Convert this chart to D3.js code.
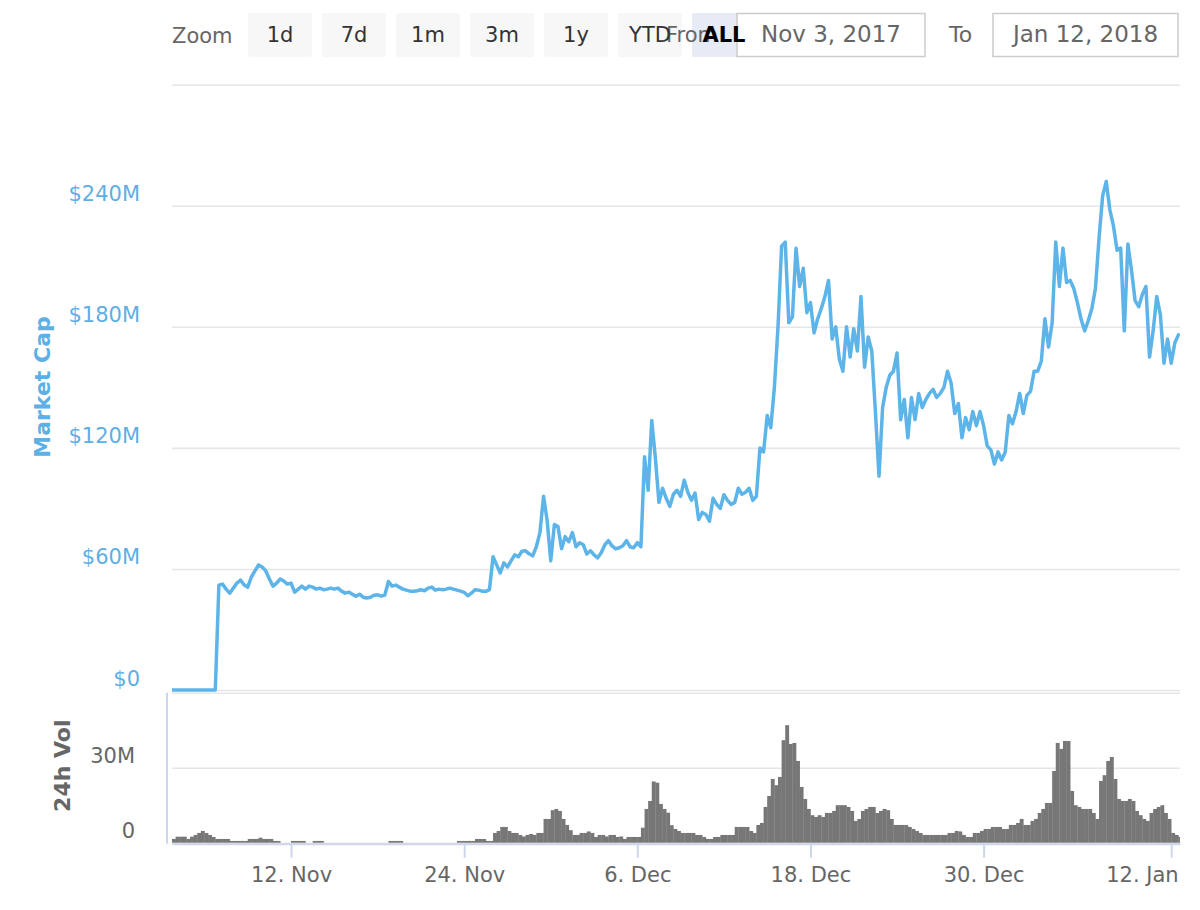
<!DOCTYPE html>
<html>
<head>
<meta charset="utf-8">
<script src="https://cdn.jsdelivr.net/npm/d3@7"></script>
<style>
  body { margin: 0; background: #fff; }
  text { font-family: "DejaVu Sans", sans-serif; }
</style>
</head>
<body>
<div id="chart"></div>
<script>
// data, one value every 6 hours starting Nov 3 18:00
var capStart = "2017-11-03T18:00";
var capEnd = "2018-01-12T14:40";
var stepHours = 6;

// market cap in $M
var marketCap = [
  0, 0, 0, 0, 0, 0, 0, 0, 0, 0,
  0, 0, 0, 52, 52.5, 50, 48, 50.5, 53, 54.5,
  52, 51, 56, 59, 62, 61, 59, 55, 51.5, 53,
  55, 54, 52.5, 53, 48.5, 50, 51.5, 50, 51.5, 51,
  50, 50.5, 49.7, 50, 50.5, 50, 50.5, 49, 48, 48.5,
  47.5, 46.5, 47.5, 46, 45.6, 46, 47, 47.2, 46.5, 47,
  53.8, 51.5, 52, 51, 50, 49.5, 49, 48.9, 49.2, 49.7,
  49.2, 50.5, 51, 49.5, 50, 49.7, 50, 50.5, 50, 49.5,
  49, 48.4, 46.7, 48, 49.7, 49.5, 49, 48.9, 49.7, 66,
  62, 58, 63, 61, 64, 67, 66, 68.8, 69, 67.5,
  66.5, 71, 78, 96, 84, 64, 82, 81, 70, 76,
  73.5, 78, 71, 73, 72, 67.4, 69, 67, 65.5, 68,
  72, 74, 71.4, 70, 70.5, 71.5, 74, 71, 70.5, 73,
  71, 115.6, 99, 133.6, 115, 93, 100, 95, 91, 97,
  99, 96, 104, 98, 94, 97.6, 84.5, 88, 87, 83.7,
  95, 92, 90, 96.8, 94, 92, 93, 100, 97, 98,
  100, 94, 96, 120, 118, 136, 130, 150, 180, 220,
  222, 182, 185, 219, 200, 209, 187, 192, 177, 184,
  189, 195, 203, 174, 180, 164, 158, 180, 165, 179,
  168, 195, 160, 175, 168, 138, 106, 140, 150, 156,
  158, 167, 134, 144, 125, 145, 134, 147, 140, 144,
  147, 149, 145, 147, 150, 158, 152, 137, 142, 125,
  135, 129, 138, 131, 138, 131, 121, 119, 112, 118,
  114, 118, 136, 132, 138, 147, 137, 146, 148, 158,
  158, 163, 184, 170, 182, 222, 200, 219, 202, 203,
  199, 192, 184, 178, 183, 189, 199, 224, 245, 252,
  238, 230, 218, 219, 178, 221, 208, 193, 190, 196,
  200, 165, 178, 195, 186, 162, 174, 162, 172, 176
];

// 24h volume in $M
var volume24h = [
  1.5, 2.4, 2.4, 2.4, 1.5, 2.4, 3.1, 3.9, 4.7, 3.9,
  3.1, 2.3, 1.5, 1.5, 1.5, 1.5, 0.7, 0.7, 0.7, 0.7,
  0.7, 1.5, 1.5, 1.5, 2.0, 1.5, 1.5, 1.5, 0.7, 0.7,
  0, 0, 0, 0.7, 0.7, 0.7, 0.7, 0, 0, 0.7,
  0.7, 0.7, 0, 0, 0, 0, 0, 0, 0, 0,
  0, 0, 0, 0, 0, 0, 0, 0, 0, 0,
  0.7, 0.7, 0.7, 0.7, 0, 0, 0, 0, 0, 0,
  0, 0, 0, 0, 0, 0, 0, 0, 0, 0.7,
  0.7, 0.7, 0.7, 0.7, 1.5, 1.5, 1.5, 0.7, 0.7, 3.9,
  4.7, 6.3, 6.3, 4.7, 3.9, 3.9, 3.1, 2.5, 3.1, 3.5,
  3.1, 3.9, 3.9, 9.5, 9.5, 13, 13.5, 12.7, 9.5, 7.1,
  5, 3.1, 3.1, 3.9, 3.9, 4.5, 3.9, 2.3, 3.1, 3.1,
  2.5, 3.1, 3.1, 2.3, 2.5, 1.5, 2.3, 2.3, 2.3, 2.3,
  6, 13.5, 16.7, 24.5, 24, 15.5, 13.5, 12, 7, 5.5,
  4.7, 3.9, 3.9, 3.9, 3.9, 3.1, 3.1, 2.3, 1.5, 1.5,
  2.3, 2.3, 3.1, 3.1, 3.1, 3.1, 6.3, 6.3, 6.3, 6.3,
  4.7, 3.9, 7.1, 7.9, 14.3, 18.7, 25.5, 23, 26.3, 41,
  47, 39.5, 39.9, 32.7, 22.3, 17.5, 13.5, 11, 10.3, 11,
  10.3, 11.9, 11.9, 12.7, 15, 15, 15, 14.3, 12.7, 8.7,
  9.5, 12.7, 13.5, 14.3, 14.3, 11.9, 12.7, 13.5, 13, 9.5,
  7.1, 7.1, 7.1, 7.1, 6.3, 5.5, 4.7, 3.9, 3.1, 3.1,
  3.1, 3.1, 3.1, 3.1, 3.1, 3.9, 3.9, 4.7, 4.5, 3.1,
  2.3, 2.3, 3.9, 3.9, 4.7, 5.5, 5.5, 6.3, 6.3, 6.3,
  5.5, 5.5, 7.1, 7.1, 7.9, 9.5, 7.1, 7.1, 8.7, 9.5,
  11.9, 13.5, 15.9, 15.9, 28.7, 39.9, 37.5, 40.7, 40.7, 20.7,
  15, 14.3, 13.5, 13.5, 13.5, 11.9, 9.5, 24.7, 27, 32.7,
  34.3, 25.5, 17.5, 16.7, 16.7, 17.5, 16.7, 12.7, 11, 9.5,
  8.7, 11.9, 13.5, 14.3, 15, 11.9, 9.5, 3.9, 3.1, 2.3
];

// axis ticks
var capTicks = [0, 60, 120, 180, 240, 300];
var capTickLabels = ["$0", "$60M", "$120M", "$180M", "$240M", ""];
var volTicks = [0, 30, 60];
var volTickLabels = ["0", "30M", ""];
var xTickDates = ["2017-11-12", "2017-11-24", "2017-12-06", "2017-12-18", "2017-12-30", "2018-01-12"];

// range selector
var zoomButtons = ["1d", "7d", "1m", "3m", "1y", "YTD", "ALL"];
var selectedButton = "ALL";
var rangeFrom = "Nov 3, 2017";
var rangeTo = "Jan 12, 2018";

var svgWidth = 1200;
var svgHeight = 910;
var plotLeft = 172;
var plotRight = 1180;
var capTop = 84.7, capBottom = 690;
var volTop = 692.7, volBottom = 842.7;

var blue = "#5cb4e9";
var labelBlue = "#5eafe3";
var gray = "#666666";

var svg = d3.select("#chart")
  .append("svg")
  .attr("width", svgWidth)
  .attr("height", svgHeight);

var parseTime = d3.utcParse("%Y-%m-%dT%H:%M");
var parseDay = d3.utcParse("%Y-%m-%d");
var startTime = parseTime(capStart);

var capData = marketCap.map(function(v, i) {
  return { t: d3.utcHour.offset(startTime, i * stepHours), v: v };
});
var volData = volume24h.map(function(v, i) {
  return { t: d3.utcHour.offset(startTime, i * stepHours), v: v };
});

// scales
var xScale = d3.scaleUtc()
  .domain([startTime, parseTime(capEnd)])
  .range([plotLeft, plotRight]);

var yCap = d3.scaleLinear().domain([0, 300]).range([capBottom, capTop]);
var yVol = d3.scaleLinear().domain([0, 60]).range([volBottom, volTop]);

// clip
svg.append("clipPath").attr("id", "plotClip")
  .append("rect")
  .attr("x", plotLeft).attr("y", 0)
  .attr("width", plotRight - plotLeft).attr("height", svgHeight);

// market cap grid + labels
var capAxis = svg.append("g")
  .attr("transform", `translate(${plotLeft},0)`)
  .call(d3.axisLeft(yCap)
    .tickValues(capTicks)
    .tickSize(-(plotRight - plotLeft))
    .tickPadding(32)
    .tickFormat(function(d, i) { return capTickLabels[i]; }));
capAxis.select(".domain").remove();
capAxis.selectAll(".tick line").attr("stroke", "#e6e6e6").attr("stroke-width", 1.6);
capAxis.selectAll(".tick text")
  .attr("y", -5).attr("dy", 0)
  .attr("fill", labelBlue)
  .style("font-size", "21px");

// volume grid + labels
var volAxis = svg.append("g")
  .attr("transform", `translate(${plotLeft},0)`)
  .call(d3.axisLeft(yVol)
    .tickValues(volTicks)
    .tickSize(-(plotRight - plotLeft))
    .tickPadding(37)
    .tickFormat(function(d, i) { return volTickLabels[i]; }));
volAxis.select(".domain").remove();
volAxis.selectAll(".tick line").attr("stroke", "#e6e6e6").attr("stroke-width", 1.6);
volAxis.selectAll(".tick text")
  .attr("y", -5).attr("dy", 0)
  .attr("fill", gray)
  .style("font-size", "21px");

// volume bars
svg.append("g")
  .attr("clip-path", "url(#plotClip)")
  .selectAll("rect")
  .data(volData.filter(function(d) { return d.v > 0; }))
  .enter()
  .append("rect")
  .attr("x", function(d) { return xScale(d.t); })
  .attr("width", function(d) { return xScale(d3.utcHour.offset(d.t, stepHours)) - xScale(d.t) + 0.3; })
  .attr("y", function(d) { return yVol(d.v); })
  .attr("height", function(d) { return yVol(0) - yVol(d.v); })
  .attr("fill", "#777777");

// market cap line
var capLine = d3.line()
  .x(function(d) { return xScale(d.t); })
  .y(function(d) { return yCap(d.v); });

svg.append("path")
  .datum(capData)
  .attr("clip-path", "url(#plotClip)")
  .attr("d", capLine)
  .attr("fill", "none")
  .attr("stroke", blue)
  .attr("stroke-width", 3.5)
  .attr("stroke-linejoin", "round")
  .attr("stroke-linecap", "round");

// volume y axis line
svg.append("line")
  .attr("x1", 167).attr("x2", 167)
  .attr("y1", volTop).attr("y2", volBottom + 1)
  .attr("stroke", "#ccd6eb").attr("stroke-width", 2);

// x axis
var xAxis = svg.append("g")
  .attr("transform", `translate(0,${volBottom + 1})`)
  .call(d3.axisBottom(xScale)
    .tickValues(xTickDates.map(parseDay))
    .tickSize(14)
    .tickSizeOuter(0)
    .tickFormat(d3.utcFormat("%-d. %b")));
xAxis.select(".domain").attr("stroke", "#ccd6eb").attr("stroke-width", 2);
xAxis.selectAll(".tick line").attr("stroke", "#ccd6eb").attr("stroke-width", 2);
xAxis.selectAll(".tick text")
  .attr("y", 38).attr("dy", 0)
  .attr("fill", gray)
  .style("font-size", "21px");
// last label is pushed inside the chart edge
xAxis.selectAll(".tick text")
  .filter(function(d, i) { return i === xTickDates.length - 1; })
  .attr("text-anchor", "end")
  .attr("x", 7);

// axis titles
svg.append("text")
  .attr("transform", `translate(50,387) rotate(-90)`)
  .attr("text-anchor", "middle")
  .attr("fill", labelBlue)
  .style("font-size", "22px")
  .style("font-weight", "bold")
  .text("Market Cap");

svg.append("text")
  .attr("transform", `translate(70,${(volTop + volBottom) / 2 - 2}) rotate(-90)`)
  .attr("text-anchor", "middle")
  .attr("fill", gray)
  .style("font-size", "22px")
  .style("font-weight", "bold")
  .text("24h Vol");

// range selector
var toolbar = svg.append("g");
var btnX = function(d, i) { return 248 + i * 74; };

toolbar.append("text")
  .attr("x", 172).attr("y", 43)
  .attr("fill", gray)
  .style("font-size", "21px")
  .text("Zoom");

toolbar.selectAll("rect.btn")
  .data(zoomButtons)
  .enter()
  .append("rect")
  .attr("class", "btn")
  .attr("x", btnX).attr("y", 13)
  .attr("width", 64).attr("height", 44)
  .attr("rx", 2)
  .attr("fill", function(d) { return d === selectedButton ? "#e6ebf5" : "#f7f7f7"; });

var inputs = [
  { x: 737, w: 188, label: rangeFrom },
  { x: 993, w: 185, label: rangeTo }
];

toolbar.selectAll("rect.input")
  .data(inputs)
  .enter()
  .append("rect")
  .attr("class", "input")
  .attr("x", function(d) { return d.x; })
  .attr("y", 13.5)
  .attr("width", function(d) { return d.w; })
  .attr("height", 43)
  .attr("fill", "#ffffff")
  .attr("stroke", "#cccccc")
  .attr("stroke-width", 1.5);

toolbar.selectAll("text.input")
  .data(inputs)
  .enter()
  .append("text")
  .attr("class", "input")
  .attr("x", function(d) { return d.x + d.w / 2; })
  .attr("y", 42)
  .attr("text-anchor", "middle")
  .attr("fill", gray)
  .style("font-size", "23px")
  .text(function(d) { return d.label; });

toolbar.append("text")
  .attr("x", 949).attr("y", 42)
  .attr("fill", gray)
  .style("font-size", "22px")
  .text("To");

// "From" label sits under the button texts, as in the original
toolbar.append("text")
  .attr("x", 718).attr("y", 42)
  .attr("text-anchor", "end")
  .attr("fill", gray)
  .style("font-size", "21px")
  .text("From");

toolbar.selectAll("text.btn")
  .data(zoomButtons)
  .enter()
  .append("text")
  .attr("class", "btn")
  .attr("x", function(d, i) { return btnX(d, i) + 32; })
  .attr("y", 42)
  .attr("text-anchor", "middle")
  .attr("fill", function(d) { return d === selectedButton ? "#000000" : "#333333"; })
  .style("font-weight", function(d) { return d === selectedButton ? "bold" : "normal"; })
  .style("font-size", "21px")
  .text(function(d) { return d; });
</script>
</body>
</html>
